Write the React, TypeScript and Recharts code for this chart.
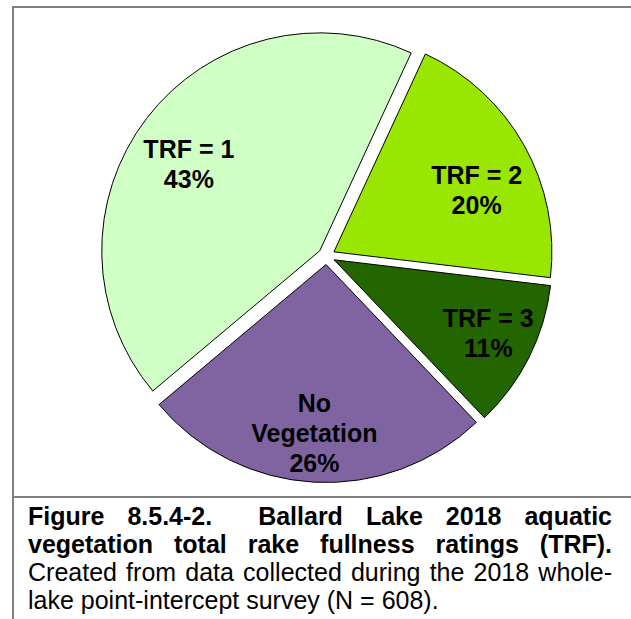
import React from 'react';
import { PieChart, Pie, Cell } from 'recharts';

// ---- data ----
const categories = ['TRF = 1', 'TRF = 2', 'TRF = 3', 'No Vegetation'];
const labelLines = [['TRF = 1'], ['TRF = 2'], ['TRF = 3'], ['No', 'Vegetation']];
const percents = [43, 20, 11, 26];
const colors = ['#d0ffc6', '#99e600', '#236600', '#8064a2'];

const captionBold = [
  'Figure 8.5.4-2.  Ballard Lake 2018 aquatic',
  'vegetation total rake fullness ratings (TRF).',
];
const captionNormal = [
  'Created from data collected during the 2018 whole-',
  'lake point-intercept survey (N = 608).',
];

// ---- layout / style ----
const CX = 326.5;
const CY = 256;
const R = 218;
const EXPLODE = 8.5;
const START = -140;
const END = -500;
const RAD = Math.PI / 180;
const labelNudge = [
  [-1, 12],
  [0, 18],
  [8, 0],
  [-2.5, 5],
];
const FONT = '"Liberation Sans", Arial, sans-serif';

const data = categories.map((name, i) => ({ name, value: percents[i] }));
const total = percents.reduce((a, b) => a + b, 0);

function midAngleOf(i: number) {
  let cum = 0;
  for (let k = 0; k < i; k++) cum += percents[k];
  return START + ((cum + percents[i] / 2) / total) * (END - START);
}

const makeLabel = (idx: number) => (props: any) => {
  if (props.index !== idx) return null;
  const { cx, cy, midAngle, outerRadius } = props;
  const x = cx + 0.75 * outerRadius * Math.cos(-midAngle * RAD) + labelNudge[idx][0];
  const y = cy + 0.75 * outerRadius * Math.sin(-midAngle * RAD) + labelNudge[idx][1];
  const lines = [...labelLines[idx], `${percents[idx]}%`];
  const lh = 30;
  const first = -((lines.length - 1) * lh) / 2 + 9;
  return (
    <text
      x={x}
      y={y}
      textAnchor="middle"
      fontFamily={FONT}
      fontWeight="bold"
      fontSize={25}
      fill="#000"
    >
      {lines.map((l, k) => (
        <tspan key={k} x={x} y={y + first + k * lh}>
          {l}
        </tspan>
      ))}
    </text>
  );
};

export default function App() {
  return (
    <div style={{ position: 'absolute', left: 0, top: 0, width: 631, height: 619, background: '#fff', overflow: 'hidden' }}>
      {/* frame */}
      <div style={{ position: 'absolute', left: 12, top: 6, width: 619, height: 2, background: '#808080' }} />
      <div style={{ position: 'absolute', left: 12, top: 6, width: 2, height: 613, background: '#808080' }} />
      <div style={{ position: 'absolute', left: 12, top: 496, width: 619, height: 2, background: '#808080' }} />

      <div style={{ position: 'absolute', left: 0, top: 0 }}>
        <PieChart width={631} height={495} margin={{ top: 0, right: 0, bottom: 0, left: 0 }}>
          {percents.map((_, i) => {
            const m = midAngleOf(i);
            const dx = EXPLODE * Math.cos(m * RAD);
            const dy = -EXPLODE * Math.sin(m * RAD);
            return (
              <Pie
                key={i}
                data={data}
                dataKey="value"
                nameKey="name"
                cx={CX + dx}
                cy={CY + dy}
                innerRadius={0}
                outerRadius={R}
                startAngle={START}
                endAngle={END}
                isAnimationActive={false}
                labelLine={false}
                label={makeLabel(i)}
              >
                {data.map((_, j) => (
                  <Cell
                    key={j}
                    fill={j === i ? colors[j] : 'none'}
                    stroke={j === i ? '#000' : 'none'}
                    strokeWidth={1}
                  />
                ))}
              </Pie>
            );
          })}
        </PieChart>
      </div>

      {/* caption */}
      <div
        style={{
          position: 'absolute',
          left: 28,
          top: 502,
          width: 584,
          fontFamily: FONT,
          fontSize: 25,
          lineHeight: '28px',
          color: '#000',
        }}
      >
        {captionBold.map((t, i) => (
          <div key={'b' + i} style={{ fontWeight: 'bold', textAlign: 'justify', textAlignLast: 'justify', whiteSpace: 'pre-wrap' }}>
            {t}
          </div>
        ))}
        {captionNormal.map((t, i) => (
          <div
            key={'n' + i}
            style={{
              textAlign: i === captionNormal.length - 1 ? 'left' : 'justify',
              textAlignLast: i === captionNormal.length - 1 ? 'left' : 'justify',
              whiteSpace: 'pre-wrap',
            }}
          >
            {t}
          </div>
        ))}
      </div>
    </div>
  );
}
